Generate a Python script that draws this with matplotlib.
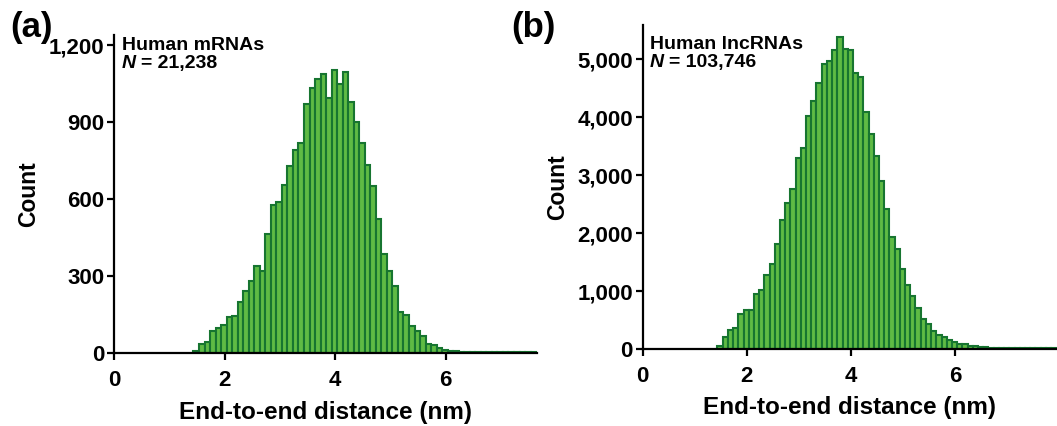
import numpy as np
import matplotlib.pyplot as plt
from matplotlib.ticker import FuncFormatter

plt.rcParams['font.family'] = ['Liberation Sans', 'DejaVu Sans']
plt.rcParams['font.weight'] = 'bold'

#%% Data (histogram counts, bin width 0.1 nm)
bin_start = 1.435
bin_width = 0.1

mrna_counts = [10, 35, 43, 87, 98, 110, 140, 143, 199, 244,
               280, 338, 322, 464, 579, 590, 657, 728, 793, 819,
               971, 1034, 1070, 1086, 995, 1105, 1047, 1096, 979, 900,
               819, 735, 650, 523, 386, 321, 260, 160, 147, 105,
               86, 66, 35, 31, 21, 12, 8, 7, 6, 5,
               5, 5, 4, 4, 4, 4, 3, 3, 4, 3, 3, 3]
lnc_counts = [58, 202, 329, 358, 606, 664, 675, 940, 1021, 1281,
              1471, 1806, 2221, 2521, 2770, 3306, 3462, 4022, 4287, 4599,
              4922, 4974, 5164, 5383, 5176, 5164, 4760, 4691, 4097, 3710,
              3340, 2902, 2412, 1933, 1719, 1373, 1108, 906, 710, 519,
              433, 317, 248, 202, 156, 115, 87, 81, 58, 58,
              40, 29, 24, 22, 20, 18, 17, 16, 15, 14,
              13, 13, 12, 12, 11]

mrna_label = 'Human mRNAs'
mrna_n = '21,238'
lnc_label = 'Human lncRNAs'
lnc_n = '103,746'

mrna_yticks = [0, 300, 600, 900, 1200]
lnc_yticks = [0, 1000, 2000, 3000, 4000, 5000]
xticks = [0, 2, 4, 6]

fill = '#5fbb44'
edge = '#177530'

fig = plt.figure(figsize=(10.57, 4.26), dpi=100)
ax_a = fig.add_axes([0.108, 0.171, 0.400, 0.747])
ax_b = fig.add_axes([0.608, 0.181, 0.392, 0.761])

comma = FuncFormatter(lambda v, p: f'{int(v):,}')

def draw(ax, counts, yticks, ylim, xlim, label, n, y1, y2):
    left = bin_start + bin_width * np.arange(len(counts))
    ax.bar(left, counts, width=bin_width, align='edge', color=fill,
           edgecolor=edge, linewidth=1.5)
    ax.set_xlim(*xlim)
    ax.set_ylim(*ylim)
    ax.set_xticks(xticks)
    ax.set_yticks(yticks)
    ax.yaxis.set_major_formatter(comma)
    for s in ['top', 'right']:
        ax.spines[s].set_visible(False)
    for s in ['left', 'bottom']:
        ax.spines[s].set_linewidth(1.6)
    ax.tick_params(labelsize=16, width=1.6, length=5)
    ax.tick_params(axis='x', pad=7)
    ax.tick_params(axis='y', pad=2)
    ax.set_xlabel('End-to-end distance (nm)', fontsize=17.5, fontweight='bold', labelpad=7)
    ax.set_ylabel('Count', fontsize=16.5, fontweight='bold', labelpad=6)
    ax.text(0.018, y1, label, transform=ax.transAxes, fontsize=14,
            fontweight='bold', va='center', ha='left')
    ax.text(0.018, y2, 'N', transform=ax.transAxes, fontsize=14,
            fontweight='bold', style='italic', va='center', ha='left')
    ax.annotate('= ' + n, xy=(0.018, y2), xycoords='axes fraction',
                xytext=(13.5, 0), textcoords='offset points', fontsize=14,
                fontweight='bold', va='center', ha='left')

draw(ax_a, mrna_counts, mrna_yticks, (0, 1240), (0, 7.65), mrna_label, mrna_n, 0.968, 0.910)
draw(ax_b, lnc_counts, lnc_yticks, (0, 5600), (0, 7.95), lnc_label, lnc_n, 0.938, 0.882)

fig.text(0.010, 0.935, '(a)', fontsize=25, fontweight='bold', va='center')
fig.text(0.484, 0.935, '(b)', fontsize=25, fontweight='bold', va='center')

fig.savefig('out.png', dpi=100)
